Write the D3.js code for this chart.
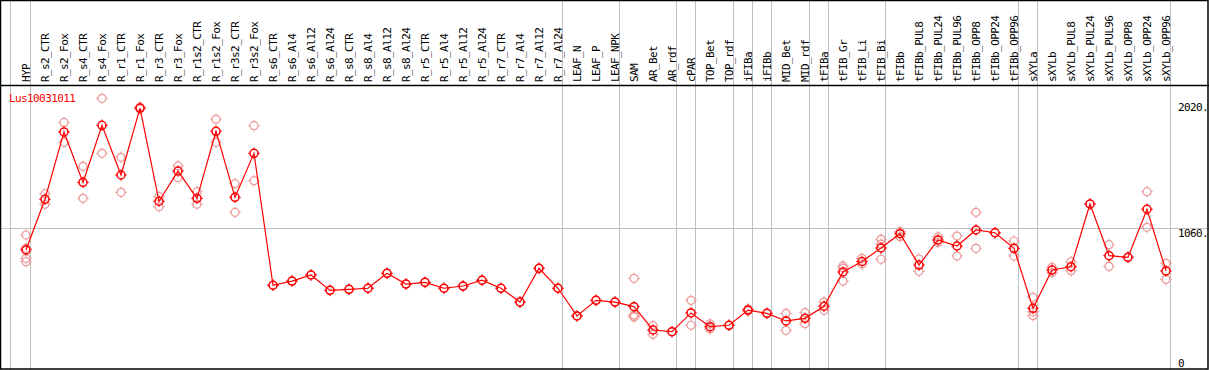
<!DOCTYPE html>
<html>
<head>
<meta charset="utf-8">
<script src="https://cdn.jsdelivr.net/npm/d3@7"></script>
<style>
body { margin: 0; background: #ffffff; }
svg { display: block; }
text { font-family: "DejaVu Sans Mono", monospace; font-size: 11px; letter-spacing: -0.6px; }
</style>
</head>
<body>
<svg></svg>
<script>
const width = 1209;
const height = 370;

const title = "Lus10031011";

const categories = [
    "HYP", "R_s2_CTR", "R_s2_Fox", "R_s4_CTR", "R_s4_Fox", "R_r1_CTR", "R_r1_Fox",
    "R_r3_CTR", "R_r3_Fox", "R_r1s2_CTR", "R_r1s2_Fox", "R_r3s2_CTR", "R_r3s2_Fox",
    "R_s6_CTR", "R_s6_Al4", "R_s6_Al12", "R_s6_Al24", "R_s8_CTR", "R_s8_Al4", "R_s8_Al12",
    "R_s8_Al24", "R_r5_CTR", "R_r5_Al4", "R_r5_Al12", "R_r5_Al24", "R_r7_CTR", "R_r7_Al4",
    "R_r7_Al12", "R_r7_Al24", "LEAF_N", "LEAF_P", "LEAF_NPK", "SAM", "AR_Bet", "AR_rdf",
    "cPAR", "TOP_Bet", "TOP_rdf", "iFIBa", "iFIBb", "MID_Bet", "MID_rdf", "tFIBa",
    "tFIB_Gr", "tFIB_Li", "tFIB_Bi", "tFIBb", "tFIBb_PUL8", "tFIBb_PUL24", "tFIBb_PUL96",
    "tFIBb_OPP8", "tFIBb_OPP24", "tFIBb_OPP96", "sXYLa", "sXYLb", "sXYLb_PUL8",
    "sXYLb_PUL24", "sXYLb_PUL96", "sXYLb_OPP8", "sXYLb_OPP24", "sXYLb_OPP96"
];

const means = [
    895, 1281, 1794, 1410, 1845, 1466, 1976, 1266, 1496, 1288, 1799, 1296, 1631,
    626, 658, 704, 587, 595, 603, 717, 635, 648, 603, 620, 664, 603, 498, 755, 603,
    392, 511, 498,
    463, 285, 272, 415, 310, 321, 437, 412, 354, 374, 466,
    727, 807, 910, 1019, 780, 971, 925, 1047, 1026, 907,
    450, 742, 767, 1245, 851, 839, 1205, 735
];

const replicates = [
    [1009, 907, 831, 805], [1323, 1243], [1867, 1715], [1532, 1288], [2050, 1631],
    [1601, 1334], [1984, 1969], [1301, 1224], [1535, 1445], [1339, 1243],
    [1890, 1715], [1400, 1182], [1842, 1423],
    [626], [658], [704], [587], [595], [603], [717], [635], [648], [603], [620],
    [664], [603], [498], [755], [603],
    [392], [511], [498],
    [679, 399, 388, 384], [318, 252], [272], [511, 321], [331, 293], [321],
    [445, 430], [412], [412, 283], [417, 333], [498, 435],
    [773, 757, 658], [831, 788], [976, 940, 824], [1034, 996], [826, 732],
    [994, 952], [1001, 849], [1182, 907], [1026], [963, 849],
    [534, 424, 394], [763, 722], [805, 737], [1245], [935, 770], [839],
    [1339, 1067], [793, 671]
];

// group boundaries: a gray line after each of these categories
const separatorsAfter = [
    "HYP", "R_r7_Al24", "LEAF_NPK", "AR_rdf", "cPAR", "TOP_rdf", "iFIBa", "iFIBb",
    "MID_rdf", "tFIBa", "tFIB_Bi", "tFIBb_OPP96", "sXYLa", "sXYLb_OPP96"
];

const yTicks = [0, 1060, 2020];
const gridValue = 1060;

const headerBottom = 85;
const lineColor = "#ff0000";
const repColor = "#ee9999";
const gridColor = "#c0c0c0";

const svg = d3.select("svg")
    .attr("width", width)
    .attr("height", height)
    .attr("viewBox", [0, 0, width, height]);

const x = d3.scalePoint()
    .domain(categories)
    .range([26, 1166]);

const y = d3.scaleLinear()
    .domain([0, 2020])
    .range([367.4, 102.3]);

svg.append("rect")
    .attr("width", width)
    .attr("height", height)
    .attr("fill", "#ffffff");

// vertical separators (through header and plot)
const separatorX = [10].concat(separatorsAfter.map(c => x(c) + 4));
svg.append("g")
    .selectAll("line")
    .data(separatorX)
    .join("line")
    .attr("x1", d => d + 0.5)
    .attr("x2", d => d + 0.5)
    .attr("y1", 0)
    .attr("y2", height)
    .attr("stroke", gridColor)
    .attr("stroke-width", 1);

// horizontal grid line
svg.append("line")
    .attr("x1", 0)
    .attr("x2", width)
    .attr("y1", Math.round(y(gridValue)) + 0.5)
    .attr("y2", Math.round(y(gridValue)) + 0.5)
    .attr("stroke", gridColor);

// frame
svg.append("rect")
    .attr("x", 0.5)
    .attr("y", 0.5)
    .attr("width", width - 1.5)
    .attr("height", height - 1.5)
    .attr("fill", "none")
    .attr("stroke", "#000000")
    .attr("stroke-width", 1.5);

svg.append("line")
    .attr("x1", 0)
    .attr("x2", width)
    .attr("y1", headerBottom + 0.5)
    .attr("y2", headerBottom + 0.5)
    .attr("stroke", "#000000")
    .attr("stroke-width", 1.5);

// category labels
svg.append("g")
    .selectAll("text")
    .data(categories)
    .join("text")
    .attr("transform", d => `translate(${x(d) + 3.5},${headerBottom - 3}) rotate(-90)`)
    .attr("fill", "#000000")
    .text(d => d);

// right value labels
svg.append("g")
    .selectAll("text")
    .data(yTicks)
    .join("text")
    .attr("x", 1178)
    .attr("y", d => Math.min(y(d) + 9, height - 3.5))
    .attr("fill", "#000000")
    .text(d => d === 0 ? "0" : d + ".");

svg.append("text")
    .attr("x", 9)
    .attr("y", 101.5)
    .attr("fill", lineColor)
    .text(title);

function drawMarker(g, color, sw) {
    g.append("circle")
        .attr("r", 4)
        .attr("fill", "none")
        .attr("stroke", color)
        .attr("stroke-width", sw);
    g.append("path")
        .attr("d", "M0,-5.8V-3.6M0,3.6V5.8M-5.8,0H-3.6M3.6,0H5.8")
        .attr("stroke", color)
        .attr("stroke-width", 1);
}

// replicate points
const repPoints = replicates.flatMap((vals, i) => vals.map(v => ({ c: categories[i], v })));
svg.append("g")
    .selectAll("g")
    .data(repPoints)
    .join("g")
    .attr("transform", d => `translate(${x(d.c)},${y(d.v)})`)
    .each(function () { drawMarker(d3.select(this), repColor, 1.2); });

// mean line
const line = d3.line()
    .x((d, i) => x(categories[i]))
    .y(d => y(d));

svg.append("path")
    .attr("d", line(means))
    .attr("fill", "none")
    .attr("stroke", lineColor)
    .attr("stroke-width", 1.2);

svg.append("g")
    .selectAll("g")
    .data(means)
    .join("g")
    .attr("transform", (d, i) => `translate(${x(categories[i])},${y(d)})`)
    .each(function () { drawMarker(d3.select(this), lineColor, 1.5); });
</script>
</body>
</html>
